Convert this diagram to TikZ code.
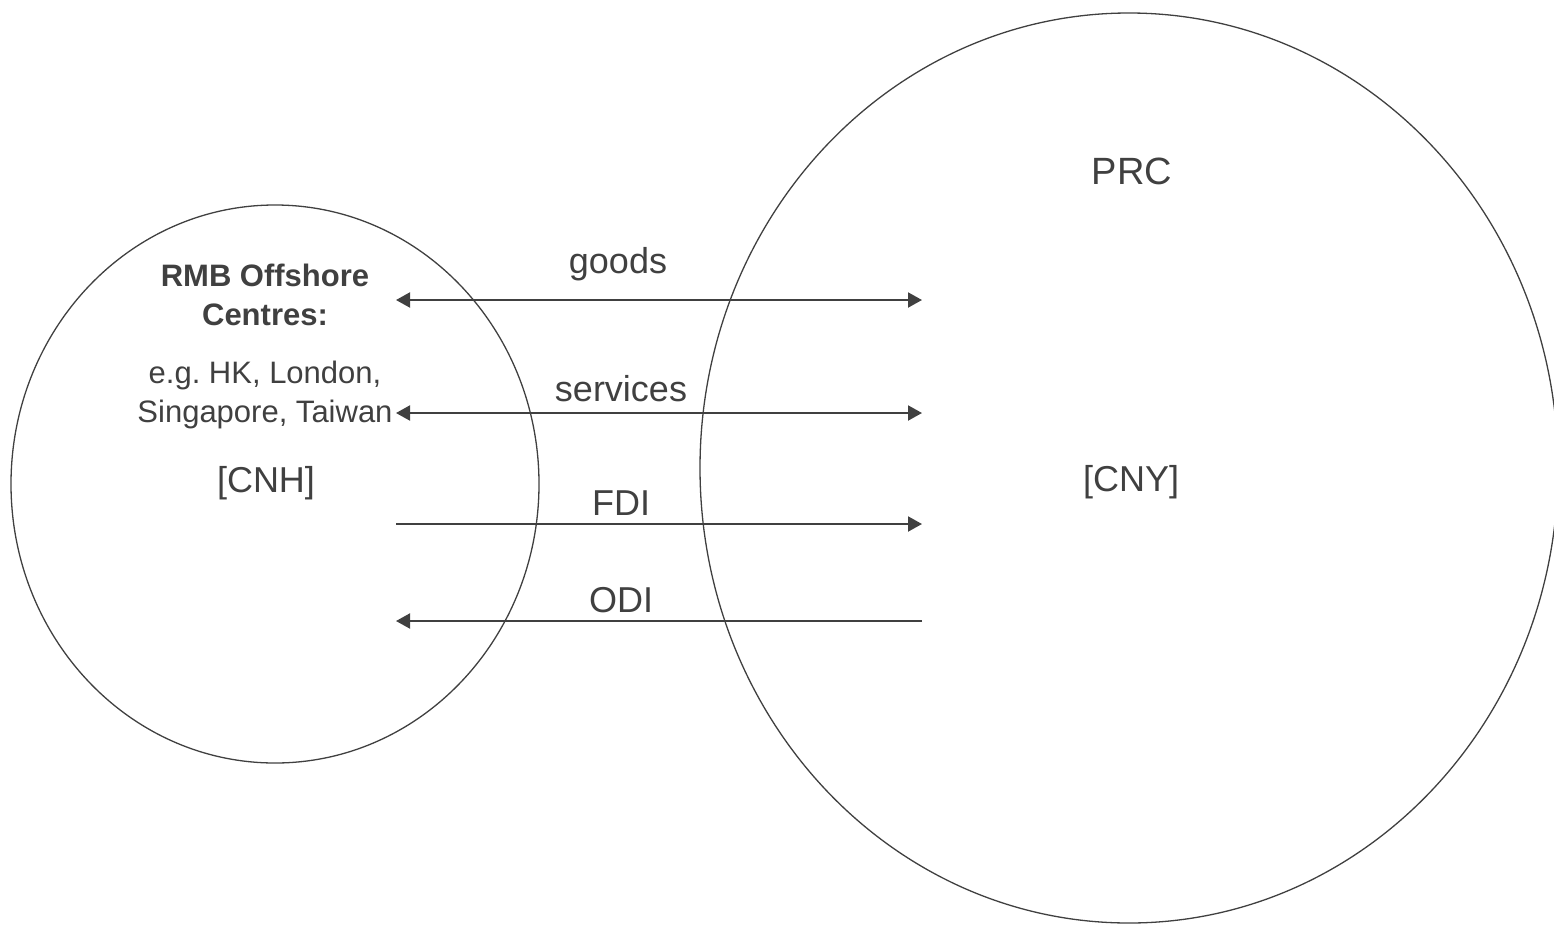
\documentclass[tikz,border=0pt]{standalone}
\usepackage{fontspec}
\setmainfont{Liberation Sans}
\usetikzlibrary{arrows.meta,shapes.geometric}
\definecolor{ink}{HTML}{404040}
\frenchspacing
\tikzset{
  region/.style={draw=ink, line width=1.3pt, ellipse, inner sep=0pt},
  lbl/.style={text=ink, anchor=base, inner sep=0pt, font=\fontsize{36}{43}\selectfont},
  biglbl/.style={lbl, font=\fontsize{38}{45}\selectfont},
  small/.style={text=ink, anchor=base, inner sep=0pt, font=\fontsize{31}{38}\selectfont},
  smallbold/.style={small, font=\fontsize{31}{38}\selectfont\bfseries},
  flow/.style={draw=ink, line width=2pt}
}
\begin{document}
\begin{tikzpicture}[x=1pt,y=-1pt]
\useasboundingbox (0,0) rectangle (1554,924);
% regions
\node[region, minimum width=528pt, minimum height=558pt] (off) at (275,484) {};
\node[region, minimum width=858pt, minimum height=910pt] (prc) at (1129,468) {};
% left texts
\node[smallbold] (t1) at (265,286) {RMB Offshore};
\node[smallbold] (t2) at (265,325) {Centres:};
\node[small] (t3) at (265,383) {e.g. HK, London,};
\node[small] (t4) at (265,422) {Singapore, Taiwan};
\node[lbl] (cnh) at (266,492) {[CNH]};
% right texts
\node[biglbl] (prct) at (1132,184) {PRC};
\node[lbl] (cny) at (1131,491) {[CNY]};
% flow labels
\node[lbl] (lg) at (618,273) {goods};
\node[lbl] (ls) at (621,401) {services};
\node[lbl] (lf) at (621,515) {FDI};
\node[lbl] (lo) at (621,612) {ODI};
% endpoints
\coordinate (gL) at (396,300);
\coordinate (gR) at (922,300);
\coordinate (sL) at (396,413);
\coordinate (sR) at (922,413);
\coordinate (fL) at (396,524);
\coordinate (fR) at (922,524);
\coordinate (oL) at (396,621);
\coordinate (oR) at (922,621);
% arrows
\draw[flow, {Triangle[length=14pt,width=15pt]}-{Triangle[length=14pt,width=15pt]}] (gL) -- (gR);
\draw[flow, {Triangle[length=14pt,width=15pt]}-{Triangle[length=14pt,width=15pt]}] (sL) -- (sR);
\draw[flow, -{Triangle[length=14pt,width=15pt]}] (fL) -- (fR);
\draw[flow, -{Triangle[length=14pt,width=15pt]}] (oR) -- (oL);
\end{tikzpicture}
\end{document}
